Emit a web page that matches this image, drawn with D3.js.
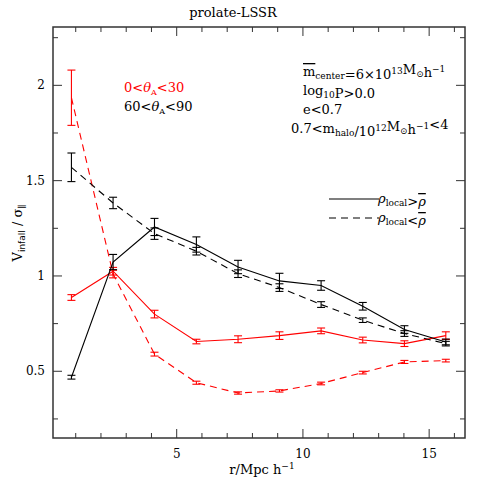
<!DOCTYPE html>
<html>
<head>
<meta charset="utf-8">
<script src="https://cdn.jsdelivr.net/npm/d3@7"></script>
<style>
  body { margin: 0; background: #fff; }
  text { font-family: "DejaVu Serif", "Liberation Serif", serif; }
</style>
</head>
<body>
<div id="chart"></div>
<script>
// radial bins (Mpc/h)
const radius = [0.83, 2.48, 4.12, 5.78, 7.43, 9.07, 10.72, 12.37, 14.02, 15.66];

// red: 0<thetaA<30, black: 60<thetaA<90 ; solid: rho_local > mean, dashed: rho_local < mean
const redHigh = [0.887, 1.025, 0.80, 0.656, 0.668, 0.687, 0.712, 0.664, 0.645, 0.687];
const redHighErr = [0.015, 0.02, 0.02, 0.012, 0.018, 0.02, 0.015, 0.015, 0.015, 0.02];
const redLow = [1.935, 1.01, 0.59, 0.44, 0.386, 0.397, 0.436, 0.493, 0.549, 0.556];
const redLowErr = [0.145, 0.02, 0.01, 0.008, 0.006, 0.006, 0.007, 0.007, 0.008, 0.007];
const blackHigh = [0.469, 1.073, 1.257, 1.165, 1.047, 0.974, 0.95, 0.841, 0.719, 0.654];
const blackHighErr = [0.01, 0.04, 0.045, 0.04, 0.035, 0.04, 0.025, 0.02, 0.02, 0.015];
const blackLow = [1.57, 1.383, 1.222, 1.13, 1.012, 0.939, 0.85, 0.768, 0.698, 0.645];
const blackLowErr = [0.075, 0.03, 0.03, 0.02, 0.02, 0.02, 0.015, 0.012, 0.015, 0.012];

const xTicks = [5, 10, 15];
const yTicks = [0.5, 1, 1.5, 2];

const width = 491, height = 491;
const margin = {top: 27, right: 26, bottom: 53, left: 53};

const svg = d3.select("#chart").append("svg")
    .attr("width", width)
    .attr("height", height);

const x = d3.scaleLinear().domain([0.1, 16.42]).range([margin.left, width - margin.right]);
const y = d3.scaleLinear().domain([0.15, 2.306]).range([height - margin.bottom, margin.top]);

const frameColor = "#333";

// frame
svg.append("rect")
    .attr("x", x.range()[0])
    .attr("y", y.range()[1])
    .attr("width", x.range()[1] - x.range()[0])
    .attr("height", y.range()[0] - y.range()[1])
    .style("fill", "none")
    .style("stroke", frameColor)
    .style("stroke-width", 1.5);

// ticks on all four sides, pointing inward
const xMinor = d3.range(1, 17, 1).filter(v => !xTicks.includes(v));
const yMinor = d3.range(0.25, 2.3, 0.25).filter(v => !yTicks.some(t => Math.abs(t - v) < 1e-6));

function xTickMarks(vals, len) {
    vals.forEach(v => {
        svg.append("line").attr("x1", x(v)).attr("x2", x(v))
            .attr("y1", y.range()[0]).attr("y2", y.range()[0] - len)
            .style("stroke", frameColor).style("stroke-width", 1);
        svg.append("line").attr("x1", x(v)).attr("x2", x(v))
            .attr("y1", y.range()[1]).attr("y2", y.range()[1] + len)
            .style("stroke", frameColor).style("stroke-width", 1);
    });
}
function yTickMarks(vals, len) {
    vals.forEach(v => {
        svg.append("line").attr("y1", y(v)).attr("y2", y(v))
            .attr("x1", x.range()[0]).attr("x2", x.range()[0] + len)
            .style("stroke", frameColor).style("stroke-width", 1);
        svg.append("line").attr("y1", y(v)).attr("y2", y(v))
            .attr("x1", x.range()[1]).attr("x2", x.range()[1] - len)
            .style("stroke", frameColor).style("stroke-width", 1);
    });
}
xTickMarks(xTicks, 9);
xTickMarks(xMinor, 5);
yTickMarks(yTicks, 9);
yTickMarks(yMinor, 5);

// tick labels
svg.selectAll(".xlab").data(xTicks).enter().append("text")
    .attr("x", d => x(d)).attr("y", y.range()[0] + 20)
    .style("text-anchor", "middle").style("font-size", "12px")
    .text(d => d);
svg.selectAll(".ylab").data(yTicks).enter().append("text")
    .attr("x", x.range()[0] - 8).attr("y", d => y(d) + 4)
    .style("text-anchor", "end").style("font-size", "12px")
    .text(d => d);

// title and axis labels
svg.append("text").attr("x", 233).attr("y", 17)
    .style("text-anchor", "middle").style("font-size", "13px")
    .text("prolate-LSSR");

const xl = svg.append("text").attr("x", 262).attr("y", 474)
    .style("text-anchor", "middle").style("font-size", "13px");
xl.append("tspan").text("r/Mpc h");
xl.append("tspan").attr("dy", -5).style("font-size", "9px").text("−1");

const yl = svg.append("text")
    .attr("transform", "translate(22,233) rotate(-90)")
    .style("text-anchor", "middle").style("font-size", "13px");
yl.append("tspan").text("V");
yl.append("tspan").attr("dy", 3).style("font-size", "9px").style("font-family", "DejaVu Sans").text("infall");
yl.append("tspan").attr("dy", -3).text("  / σ");
yl.append("tspan").attr("dy", 3).style("font-size", "9px").text("∥");

// series
const series = [
    {vals: redHigh, err: redHighErr, color: "#ff0000", dash: null},
    {vals: redLow, err: redLowErr, color: "#ff0000", dash: "7,5"},
    {vals: blackHigh, err: blackHighErr, color: "#000", dash: null},
    {vals: blackLow, err: blackLowErr, color: "#000", dash: "7,5"}
];

const line = d3.line().x(d => x(d[0])).y(d => y(d[1]));

series.forEach(s => {
    const pts = radius.map((r, i) => [r, s.vals[i], s.err[i]]);
    svg.append("path")
        .datum(pts)
        .attr("d", line)
        .style("fill", "none")
        .style("stroke", s.color)
        .style("stroke-width", 1.1)
        .style("stroke-dasharray", s.dash);

    const eb = svg.append("g");
    pts.forEach(p => {
        const xp = x(p[0]), y0 = y(p[1] - p[2]), y1 = y(p[1] + p[2]);
        eb.append("line").attr("x1", xp).attr("x2", xp).attr("y1", y0).attr("y2", y1)
            .style("stroke", s.color).style("stroke-width", 1.1);
        [y0, y1].forEach(yy => {
            eb.append("line").attr("x1", xp - 4).attr("x2", xp + 4).attr("y1", yy).attr("y2", yy)
                .style("stroke", s.color).style("stroke-width", 1.1);
        });
    });
});

// theta legend
function thetaLabel(xp, yp, lo, hi, color) {
    const t = svg.append("text").attr("x", xp).attr("y", yp)
        .style("font-size", "13px").style("fill", color);
    t.append("tspan").text(lo + "<");
    t.append("tspan").style("font-style", "italic").text("θ");
    t.append("tspan").attr("dy", 3).style("font-size", "8px").text("A");
    t.append("tspan").attr("dy", -3).text("<" + hi);
}
thetaLabel(124, 92, "0", "30", "#ff0000");
thetaLabel(124, 111, "60", "90", "#000");

// parameter annotation
const sup = (t, s) => { t.append("tspan").attr("dy", -5).style("font-size", "9px").text(s); t.append("tspan").attr("dy", 5).text(""); };
const sub = (t, s) => { t.append("tspan").attr("dy", 3).style("font-size", "9px").text(s); t.append("tspan").attr("dy", -3).text(""); };

let a = svg.append("text").attr("x", 303).attr("y", 76).style("font-size", "13px");
a.append("tspan").style("text-decoration", "overline").text("m");
sub(a, "center");
a.append("tspan").text("=6×10");
sup(a, "13");
a.append("tspan").text("M");
sub(a, "⊙");
a.append("tspan").text("h");
sup(a, "−1");

a = svg.append("text").attr("x", 303).attr("y", 95).style("font-size", "13px");
a.append("tspan").text("log");
sub(a, "10");
a.append("tspan").text("P>0.0");

svg.append("text").attr("x", 303).attr("y", 114).style("font-size", "13px").text("e<0.7");

a = svg.append("text").attr("x", 291).attr("y", 133).style("font-size", "13px");
a.append("tspan").text("0.7<m");
sub(a, "halo");
a.append("tspan").text("/10");
sup(a, "12");
a.append("tspan").text("M");
sub(a, "⊙");
a.append("tspan").text("h");
sup(a, "−1");
a.append("tspan").text("<4");

// density legend
[{yp: 199, dash: null, op: ">"}, {yp: 218, dash: "7,5", op: "<"}].forEach(l => {
    svg.append("line").attr("x1", 329).attr("x2", 379).attr("y1", l.yp).attr("y2", l.yp)
        .style("stroke", "#000").style("stroke-width", 1.1).style("stroke-dasharray", l.dash);
    const t = svg.append("text").attr("x", 378).attr("y", l.yp + 4).style("font-size", "13px");
    t.append("tspan").style("font-style", "italic").text("ρ");
    sub(t, "local");
    t.append("tspan").text(l.op);
    t.append("tspan").style("font-style", "italic").style("text-decoration", "overline").text("ρ");
});
</script>
</body>
</html>
